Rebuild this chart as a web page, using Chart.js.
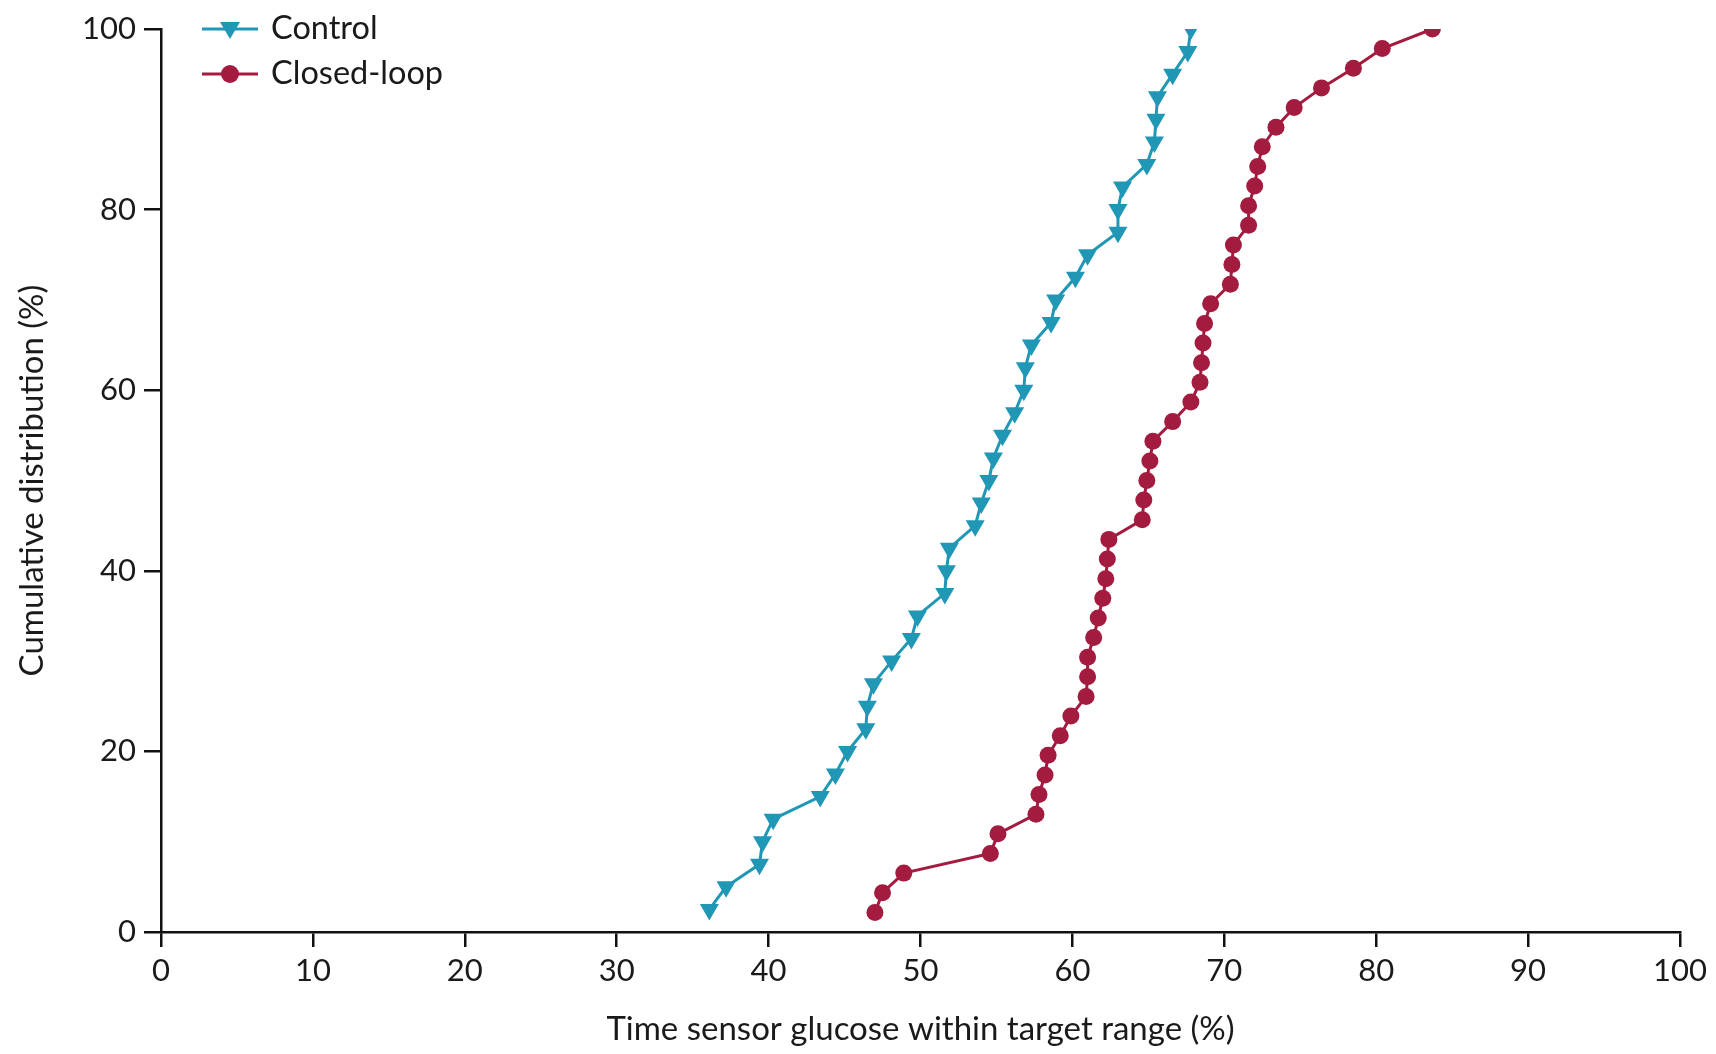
<!DOCTYPE html>
<html lang="en">
<head>
<meta charset="UTF-8">
<title>Time sensor glucose within target range</title>
<script src="https://cdn.jsdelivr.net/npm/chart.js@4.4.1/dist/chart.umd.min.js"></script>
<style>
  body { margin: 0; background: #fff; }
</style>
</head>
<body>
<canvas id="cdfChart" width="1716" height="1054"></canvas>
<script>
// values
const controlX = [36.1, 37.2, 39.4, 39.6, 40.3, 43.4, 44.4, 45.2, 46.4, 46.5,
                  46.9, 48.1, 49.4, 49.8, 51.6, 51.7, 51.9, 53.6, 54.0, 54.5,
                  54.8, 55.4, 56.2, 56.8, 56.9, 57.3, 58.6, 58.9, 60.2, 61.0,
                  63.0, 63.0, 63.3, 64.9, 65.4, 65.5, 65.6, 66.6, 67.6, 67.8];
const controlY = [2.5, 5, 7.5, 10, 12.5, 15, 17.5, 20, 22.5, 25,
                  27.5, 30, 32.5, 35, 37.5, 40, 42.5, 45, 47.5, 50,
                  52.5, 55, 57.5, 60, 62.5, 65, 67.5, 70, 72.5, 75,
                  77.5, 80, 82.5, 85, 87.5, 90, 92.5, 95, 97.5, 100];

const closedX = [47.0, 47.5, 48.9, 54.6, 55.1, 57.6, 57.8, 58.2, 58.4, 59.2,
                 59.9, 60.9, 61.0, 61.0, 61.4, 61.7, 62.0, 62.2, 62.3, 62.4,
                 64.6, 64.7, 64.9, 65.1, 65.3, 66.6, 67.8, 68.4, 68.5, 68.6,
                 68.7, 69.1, 70.4, 70.5, 70.6, 71.6, 71.6, 72.0, 72.2, 72.5,
                 73.4, 74.6, 76.4, 78.5, 80.4, 83.7];
const closedY = [2.17, 4.35, 6.52, 8.70, 10.87, 13.04, 15.22, 17.39, 19.57, 21.74,
                 23.91, 26.09, 28.26, 30.43, 32.61, 34.78, 36.96, 39.13, 41.30, 43.48,
                 45.65, 47.83, 50.00, 52.17, 54.35, 56.52, 58.70, 60.87, 63.04, 65.22,
                 67.39, 69.57, 71.74, 73.91, 76.09, 78.26, 80.43, 82.61, 84.78, 86.96,
                 89.13, 91.30, 93.48, 95.65, 97.83, 100];

const seriesNames = ['Control', 'Closed-loop'];
const xTitle = 'Time sensor glucose within target range (%)';
const yTitle = 'Cumulative distribution (%)';

const TEAL = '#2197b6';
const CRIMSON = '#a31b3f';
const FONT = 'Lato';

function toPoints(xs, ys) {
  return xs.map((x, i) => ({ x: x, y: ys[i] }));
}

// legend: short line with marker, top-left inside the plot
const lineLegend = {
  id: 'lineLegend',
  afterDraw(chart) {
    const ctx = chart.ctx;
    const rows = [
      { y: 29, color: TEAL, shape: 'tri' },
      { y: 74, color: CRIMSON, shape: 'circle' }
    ];
    ctx.save();
    rows.forEach((r, i) => {
      ctx.strokeStyle = r.color;
      ctx.fillStyle = r.color;
      ctx.lineWidth = 3;
      ctx.beginPath();
      ctx.moveTo(202, r.y);
      ctx.lineTo(258, r.y);
      ctx.stroke();
      ctx.beginPath();
      if (r.shape === 'tri') {
        ctx.moveTo(220, r.y - 7);
        ctx.lineTo(240, r.y - 7);
        ctx.lineTo(230, r.y + 10);
        ctx.closePath();
      } else {
        ctx.arc(230, r.y, 9, 0, Math.PI * 2);
      }
      ctx.fill();
      ctx.fillStyle = '#1a1a1a';
      ctx.font = '32.5px ' + FONT;
      ctx.textBaseline = 'middle';
      ctx.textAlign = 'left';
      ctx.fillText(seriesNames[i], 271, r.y);
    });
    ctx.restore();
  }
};

const ctx = document.getElementById('cdfChart').getContext('2d');
const cdfChart = new Chart(ctx, {
  type: 'scatter',
  data: {
    datasets: [{
      label: seriesNames[0],
      data: toPoints(controlX, controlY),
      showLine: true,
      borderColor: TEAL,
      backgroundColor: TEAL,
      borderWidth: 3,
      pointStyle: 'triangle',
      rotation: 180,
      pointRadius: 11,
      pointBorderWidth: 0
    }, {
      label: seriesNames[1],
      data: toPoints(closedX, closedY),
      showLine: true,
      borderColor: CRIMSON,
      backgroundColor: CRIMSON,
      borderWidth: 3,
      pointStyle: 'circle',
      pointRadius: 8.5,
      pointBorderWidth: 0
    }]
  },
  options: {
    responsive: false,
    animation: false,
    layout: { padding: { top: 29, right: 36, left: 0, bottom: 0 } },
    plugins: {
      legend: { display: false },
      tooltip: { enabled: false }
    },
    scales: {
      x: {
        type: 'linear',
        min: 0,
        max: 100,
        afterFit(scale) { scale.height = 122; },
        border: { display: true, color: '#111', width: 2.5 },
        grid: { drawOnChartArea: false, drawTicks: true, tickLength: 15, color: '#111', lineWidth: 2.5 },
        ticks: { stepSize: 10, color: '#1a1a1a', padding: 5, font: { family: FONT, size: 31 } },
        title: {
          display: true,
          text: xTitle,
          color: '#1a1a1a',
          font: { family: FONT, size: 33 },
          padding: { top: 0, bottom: 5 }
        }
      },
      y: {
        type: 'linear',
        min: 0,
        max: 100,
        afterFit(scale) { scale.width = 161; },
        border: { display: true, color: '#111', width: 2.5 },
        grid: { drawOnChartArea: false, drawTicks: true, tickLength: 17, color: '#111', lineWidth: 2.5 },
        ticks: { stepSize: 20, color: '#1a1a1a', padding: 8, font: { family: FONT, size: 31 } },
        title: {
          display: true,
          text: yTitle,
          color: '#1a1a1a',
          font: { family: FONT, size: 33 },
          padding: { top: 13, bottom: 0 }
        }
      }
    }
  },
  plugins: [lineLegend]
});
</script>
</body>
</html>
